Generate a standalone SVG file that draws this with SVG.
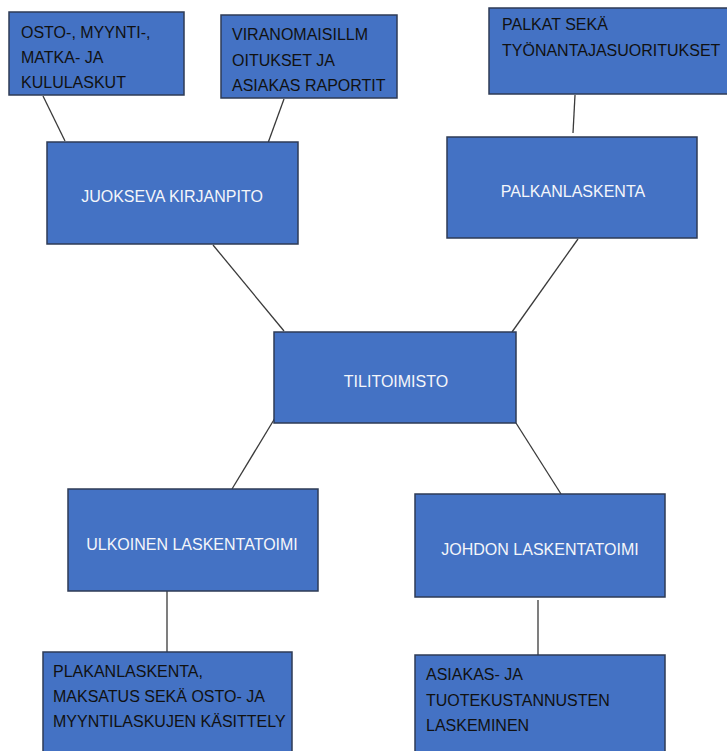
<svg xmlns="http://www.w3.org/2000/svg" width="727" height="751" viewBox="0 0 727 751">
<style>
.box{fill:#4472C4;stroke:#2E3B55;stroke-width:1.5}
.lbl{font-family:"Liberation Sans",Arial,sans-serif;font-size:16px}
.w{fill:#F4F6FA;text-anchor:middle}
.d{fill:#111111}
.con line{stroke:#3A3A3A;stroke-width:1.3}
</style>
<rect width="727" height="751" fill="#ffffff"/>
<g class="con" id="connectors">
<line x1="43" y1="96" x2="65" y2="141"/>
<line x1="284" y1="99" x2="268" y2="143"/>
<line x1="575" y1="95" x2="573" y2="133"/>
<line x1="213" y1="245" x2="284" y2="331"/>
<line x1="578" y1="239" x2="512" y2="332"/>
<line x1="275" y1="418" x2="232" y2="489"/>
<line x1="516" y1="423" x2="561" y2="494"/>
<line x1="167" y1="591" x2="167" y2="652"/>
<line x1="538" y1="600" x2="538" y2="655"/>
</g>
<g id="osto">
<rect class="box" x="9" y="12" width="175" height="83"/>
<text class="lbl d" x="21" y="38">OSTO-, MYYNTI-,</text>
<text class="lbl d" x="21" y="63">MATKA- JA</text>
<text class="lbl d" x="21" y="88">KULULASKUT</text>
</g>
<g id="viranomais">
<rect class="box" x="221" y="15" width="176" height="83"/>
<text class="lbl d" x="232" y="40">VIRANOMAISILLM</text>
<text class="lbl d" x="232" y="66">OITUKSET JA</text>
<text class="lbl d" x="232" y="91">ASIAKAS RAPORTIT</text>
</g>
<g id="palkat">
<rect class="box" x="489" y="8" width="245" height="86"/>
<text class="lbl d" x="502" y="30">PALKAT SEKÄ</text>
<text class="lbl d" x="502" y="56">TYÖNANTAJASUORITUKSET</text>
</g>
<g id="juokseva">
<rect class="box" x="47" y="142" width="251" height="102"/>
<text class="lbl w" x="172" y="202">JUOKSEVA KIRJANPITO</text>
</g>
<g id="palkanlaskenta">
<rect class="box" x="447" y="137" width="250" height="101"/>
<text class="lbl w" x="573" y="197">PALKANLASKENTA</text>
</g>
<g id="tilitoimisto">
<rect class="box" x="274" y="332" width="242" height="91"/>
<text class="lbl w" x="396" y="387">TILITOIMISTO</text>
</g>
<g id="ulkoinen">
<rect class="box" x="68" y="489" width="250" height="102"/>
<text class="lbl w" x="192" y="550">ULKOINEN LASKENTATOIMI</text>
</g>
<g id="johdon">
<rect class="box" x="415" y="494" width="250" height="103"/>
<text class="lbl w" x="540" y="555">JOHDON LASKENTATOIMI</text>
</g>
<g id="plakan">
<rect class="box" x="43" y="652" width="249" height="110"/>
<text class="lbl d" x="53" y="677">PLAKANLASKENTA,</text>
<text class="lbl d" x="53" y="702">MAKSATUS SEKÄ OSTO- JA</text>
<text class="lbl d" x="53" y="727">MYYNTILASKUJEN KÄSITTELY</text>
</g>
<g id="asiakas">
<rect class="box" x="415" y="655" width="250" height="110"/>
<text class="lbl d" x="426" y="680">ASIAKAS- JA</text>
<text class="lbl d" x="426" y="706">TUOTEKUSTANNUSTEN</text>
<text class="lbl d" x="426" y="731">LASKEMINEN</text>
</g>
</svg>
